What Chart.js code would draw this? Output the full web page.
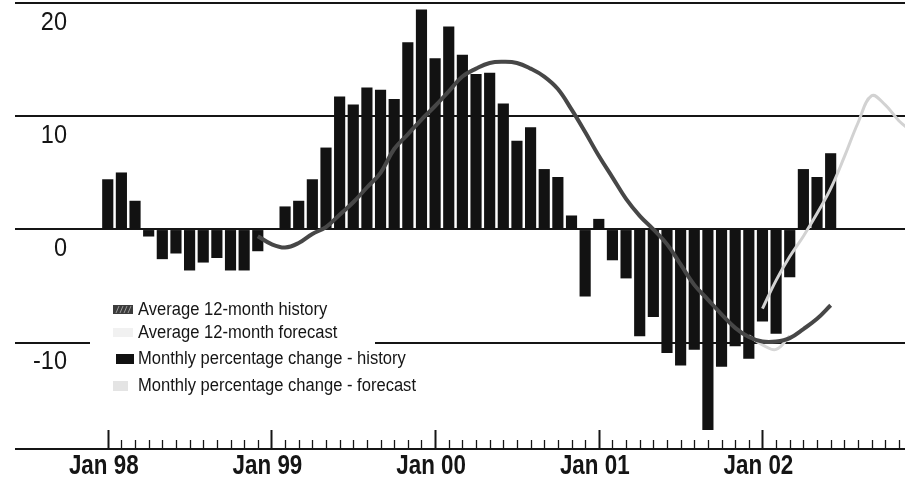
<!DOCTYPE html>
<html><head><meta charset="utf-8">
<script src="https://cdn.jsdelivr.net/npm/chart.js@4.4.0/dist/chart.umd.min.js"></script>
<style>html,body{margin:0;padding:0;background:#fff;}#wrap{width:905px;height:489px;position:relative;}</style>
</head><body><div id="wrap"><canvas id="c" width="905" height="489"></canvas></div>
<script>
// Month categories (index 0 = Jan 98)
const months = ["Jan 98","Feb 98","Mar 98","Apr 98","May 98","Jun 98","Jul 98","Aug 98","Sep 98","Oct 98","Nov 98","Dec 98",
"Jan 99","Feb 99","Mar 99","Apr 99","May 99","Jun 99","Jul 99","Aug 99","Sep 99","Oct 99","Nov 99","Dec 99",
"Jan 00","Feb 00","Mar 00","Apr 00","May 00","Jun 00","Jul 00","Aug 00","Sep 00","Oct 00","Nov 00","Dec 00",
"Jan 01","Feb 01","Mar 01","Apr 01","May 01","Jun 01","Jul 01","Aug 01","Sep 01","Oct 01","Nov 01","Dec 01",
"Jan 02","Feb 02","Mar 02","Apr 02","May 02","Jun 02","Jul 02","Aug 02","Sep 02","Oct 02","Nov 02","Dec 02"];
const tickMonths = months.slice(0, 59);

// Monthly percentage change - history (Jan 98 .. Jun 02)
const monthlyHistory = [4.4,5.0,2.5,-0.6,-2.6,-2.1,-3.6,-2.9,-2.5,-3.6,-3.6,-1.9,
 null,2.0,2.5,4.4,7.2,11.7,11.0,12.5,12.3,11.5,16.5,19.4,
 15.1,17.9,15.4,13.7,13.8,11.1,7.8,9.0,5.3,4.6,1.2,-5.9,
 0.9,-2.7,-4.3,-9.4,-7.7,-10.9,-12.0,-10.6,-17.7,-12.1,-10.3,-11.4,
 -8.1,-9.2,-4.2,5.3,4.6,6.7];

// Average 12-month history (Dec 98 .. Jun 02)
const avgHistoryMonths = ["Dec 98","Jan 99","Feb 99","Mar 99","Apr 99","May 99","Jun 99","Jul 99","Aug 99","Sep 99","Oct 99","Nov 99","Dec 99",
 "Jan 00","Feb 00","Mar 00","Apr 00","May 00","Jun 00","Jul 00","Aug 00","Sep 00","Oct 00","Nov 00","Dec 00",
 "Jan 01","Feb 01","Mar 01","Apr 01","May 01","Jun 01","Jul 01","Aug 01","Sep 01","Oct 01","Nov 01","Dec 01",
 "Jan 02","Feb 02","Mar 02","Apr 02","May 02","Jun 02"];
const avgHistory = [-0.6,-1.3,-1.6,-1.2,-0.4,0.2,1.3,2.4,3.7,5.0,7.1,8.4,9.7,
 10.9,12.2,13.5,14.2,14.7,14.8,14.7,14.2,13.5,12.4,10.6,8.6,
 6.5,4.6,2.7,1.2,0.0,-1.3,-3.1,-4.9,-6.2,-7.5,-8.7,-9.5,
 -9.9,-9.9,-9.6,-8.8,-7.9,-6.7];

// Average 12-month forecast (very light)
const avgForecastMonths = ["Dec 01","Jan 02","Feb 02","Mar 02"];
const avgForecast = [-9.4,-10.2,-10.6,-9.4];

// Monthly percentage change - forecast (light line)
const monthlyForecastMonths = ["Jan 02","Feb 02","Mar 02","Apr 02","May 02","Jun 02","Jul 02","Aug 02","Sep 02","Oct 02","Nov 02","Dec 02"];
const monthlyForecast = [-7.0,-4.5,-2.4,-0.6,1.4,3.6,6.4,9.4,11.8,11.0,9.6,8.6];

// Axis labels
const yTickValues = [20,10,0,-10];
const yTickLabels = ["20","10","0","-10"];
const xLabelMonths = ["Jan 98","Jan 99","Jan 00","Jan 01","Jan 02"];

const idx = m => months.indexOf(m);
const pts = (labels, vals) => labels.map((m,i)=>({x: idx(m), y: vals[i]}));

function txt(ctx, s, x, y, font, sx, align, color){
  ctx.save(); ctx.font = font; ctx.fillStyle = color || '#151515';
  ctx.translate(x, y); ctx.scale(sx, 1);
  ctx.textAlign = align; ctx.textBaseline = 'middle';
  ctx.fillText(s, 0, 0); ctx.restore();
}

const decor = {
  id: 'decor',
  afterDatasetsDraw(chart){
    const ctx = chart.ctx, xs = chart.scales.x, ys = chart.scales.y, ca = chart.chartArea;
    ctx.save();
    ctx.strokeStyle = '#151515'; ctx.lineWidth = 2;
    ctx.beginPath(); ctx.moveTo(ca.left, ca.bottom); ctx.lineTo(ca.right, ca.bottom); ctx.stroke();
    tickMonths.forEach((m,i)=>{
      const x = Math.round(xs.getPixelForValue(i)) + 0.5;
      const major = m.startsWith('Jan');
      ctx.lineWidth = major ? 2 : 1.3;
      ctx.beginPath(); ctx.moveTo(x, ca.bottom); ctx.lineTo(x, ca.bottom - (major ? 19 : 9)); ctx.stroke();
    });
    ctx.restore();
    yTickValues.forEach((v,i)=>{
      txt(ctx, yTickLabels[i], 67, ys.getPixelForValue(v) + 20, '25px "Liberation Sans", Arial, sans-serif', 0.94, 'right');
    });
    xLabelMonths.forEach(m=>{
      txt(ctx, m, xs.getPixelForValue(idx(m)) - 4, ca.bottom + 17, 'bold 28px "Liberation Sans", Arial, sans-serif', 0.8, 'center');
    });
    ctx.save(); ctx.fillStyle = '#fff'; ctx.fillRect(90, 296, 285, 100); ctx.restore();
    const ds = chart.data.datasets;
    const rows = [
      {label: ds[0].label, y: 310},
      {label: ds[1].label, y: 333},
      {label: ds[3].label, y: 359},
      {label: ds[2].label, y: 386}
    ];
    ctx.save();
    ctx.fillStyle = '#3c3c3c'; ctx.fillRect(113, 305, 20, 9);
    ctx.strokeStyle = '#9a9a9a'; ctx.lineWidth = 1;
    for (let k=0;k<4;k++){ ctx.beginPath(); ctx.moveTo(116+k*4, 313); ctx.lineTo(119+k*4, 306); ctx.stroke(); }
    ctx.fillStyle = '#f1f1f1'; ctx.fillRect(113, 328, 20, 9);
    ctx.fillStyle = '#111'; ctx.fillRect(116, 354, 18, 10);
    ctx.fillStyle = '#e4e4e4'; ctx.fillRect(113, 381, 15, 10);
    ctx.restore();
    rows.forEach(r=>{
      txt(ctx, r.label, 138, r.y, '18px "Liberation Sans", Arial, sans-serif', 0.92, 'left');
    });
  }
};

new Chart(document.getElementById('c'), {
  type: 'bar',
  data: { datasets: [
    { type:'line', label:'Average 12-month history', data: pts(avgHistoryMonths, avgHistory),
      borderColor:'#474747', borderWidth:4, pointRadius:0, tension:0.4, order:0 },
    { type:'line', label:'Average 12-month forecast', data: pts(avgForecastMonths, avgForecast),
      borderColor:'#d6d6d6', borderWidth:3, pointRadius:0, tension:0.4, order:1 },
    { type:'line', label:'Monthly percentage change - forecast', data: pts(monthlyForecastMonths, monthlyForecast),
      borderColor:'#d2d2d2', borderWidth:3, pointRadius:0, tension:0.4, order:2 },
    { type:'bar', label:'Monthly percentage change - history', data: monthlyHistory.map((v,i)=>({x:i, y:v})),
      backgroundColor:'#121212', barThickness:10.5, order:5 }
  ]},
  options: {
    responsive:false, animation:false, maintainAspectRatio:false,
    layout:{ padding:{ left:15, top:3, right:0, bottom:40 } },
    plugins:{ legend:{display:false}, tooltip:{enabled:false} },
    scales:{
      x:{ type:'linear', display:false, min:-6.8, max:58.45, offset:false },
      y:{ min:-19.4, max:20,
          afterBuildTicks: s => { s.ticks = yTickValues.map(v=>({value:v})); },
          afterFit: s => { s.width = 0; },
          ticks:{ display:false }, border:{ display:false },
          grid:{ color:'#151515', lineWidth:2, drawTicks:false } }
    }
  },
  plugins:[decor]
});
</script></body></html>
